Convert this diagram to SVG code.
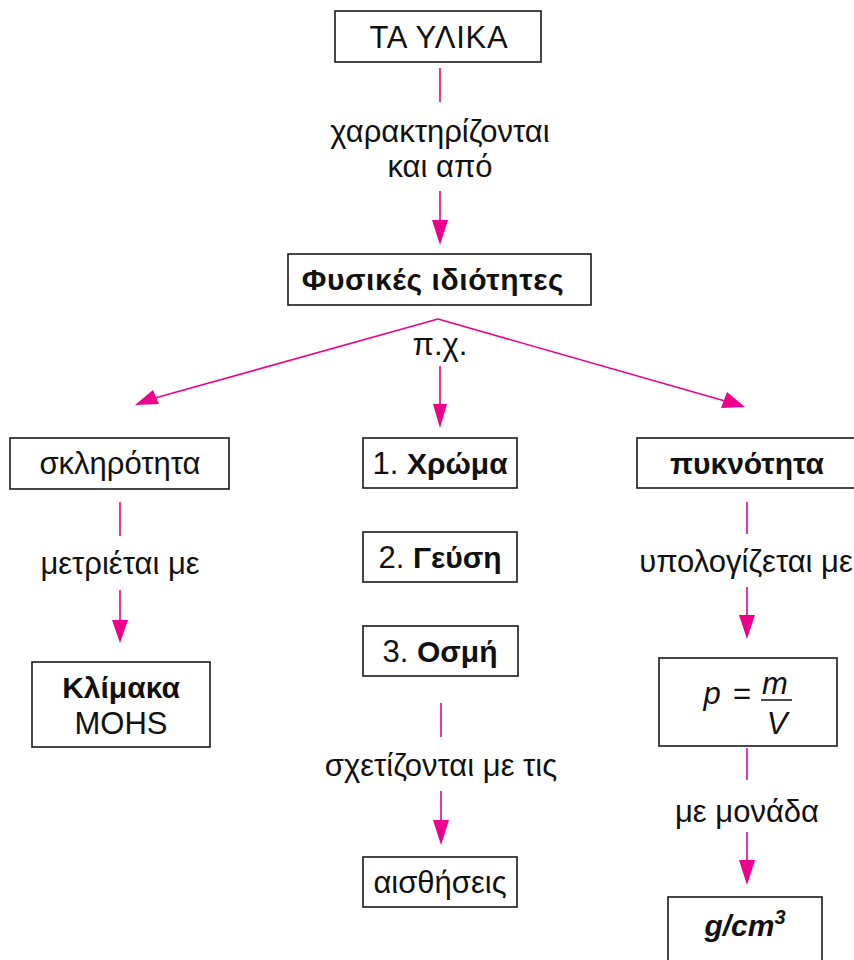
<svg xmlns="http://www.w3.org/2000/svg" width="854" height="960" viewBox="0 0 854 960">
<style>
.box{fill:#fff;stroke:#1a1a1a;stroke-width:1.6}
.t{font-family:"Liberation Sans",Arial,sans-serif;font-size:31px;fill:#111;text-anchor:middle}
.b{font-weight:bold;font-size:30px}
.i{font-style:italic}
.ln{stroke:#ec008c;stroke-width:1.6;fill:none}
.ah{fill:#ec008c}
</style>
<rect width="854" height="960" fill="#fff"/>
<g id="connectors">
<line class="ln" x1="440" y1="68" x2="440" y2="102"/>
<line class="ln" x1="440" y1="191" x2="440" y2="222"/>
<polygon class="ah" points="432,220 448,220 440,245"/>
<line class="ln" x1="438" y1="319" x2="155" y2="398"/>
<polygon class="ah" points="135,405 153,390 159,404"/>
<line class="ln" x1="438" y1="319" x2="725" y2="401"/>
<polygon class="ah" points="745,407 721,408 727,392"/>
<line class="ln" x1="440" y1="366" x2="440" y2="406"/>
<polygon class="ah" points="433,404 447,404 440,428"/>
<line class="ln" x1="120" y1="502" x2="120" y2="536"/>
<line class="ln" x1="120" y1="590" x2="120" y2="622"/>
<polygon class="ah" points="112,620 128,620 120,643"/>
<line class="ln" x1="441" y1="703" x2="441" y2="737"/>
<line class="ln" x1="441" y1="791" x2="441" y2="822"/>
<polygon class="ah" points="433,820 449,820 441,845"/>
<line class="ln" x1="747" y1="502" x2="747" y2="534"/>
<line class="ln" x1="747" y1="587" x2="747" y2="617"/>
<polygon class="ah" points="739,615 755,615 747,639"/>
<line class="ln" x1="747" y1="748" x2="747" y2="780"/>
<line class="ln" x1="747" y1="832" x2="747" y2="862"/>
<polygon class="ah" points="739,860 755,860 747,885"/>
</g>
<g id="labels">
<text class="t" x="440" y="142">χαρακτηρίζονται</text>
<text class="t" x="440" y="177">και από</text>
<text class="t" x="440" y="355">π.χ.</text>
<text class="t" x="120" y="574">μετριέται με</text>
<text class="t" x="441" y="776">σχετίζονται με τις</text>
<text class="t" x="746" y="572">υπολογίζεται με</text>
<text class="t" x="747" y="822">με μονάδα</text>
</g>
<g id="n-ta-ylika">
<rect class="box" x="335" y="11" width="206" height="51"/>
<text class="t" x="439" y="48" font-size="33" letter-spacing="0.8">ΤΑ ΥΛΙΚΑ</text>
</g>
<g id="n-fysikes">
<rect class="box" x="288" y="254" width="303" height="51"/>
<text class="t b" x="433" y="290" font-size="32" letter-spacing="0.6">Φυσικές ιδιότητες</text>
</g>
<g id="n-sklirotita">
<rect class="box" x="10" y="438" width="219" height="51"/>
<text class="t" x="120" y="474">σκληρότητα</text>
</g>
<g id="n-xroma">
<rect class="box" x="363" y="438" width="154" height="50"/>
<text class="t" x="440" y="474">1. <tspan class="b">Χρώμα</tspan></text>
</g>
<g id="n-pyknotita">
<rect class="box" x="637" y="438" width="230" height="50"/>
<text class="t b" x="747" y="474">πυκνότητα</text>
</g>
<g id="n-klimaka">
<rect class="box" x="32" y="662" width="178" height="85"/>
<text class="t b" x="121" y="698">Κλίμακα</text>
<text class="t" x="121" y="734">MOHS</text>
</g>
<g id="n-geysi">
<rect class="box" x="363" y="532" width="154" height="50"/>
<text class="t" x="440" y="568">2. <tspan class="b">Γεύση</tspan></text>
</g>
<g id="n-osmi">
<rect class="box" x="363" y="626" width="155" height="50"/>
<text class="t" x="440" y="662">3. <tspan class="b">Οσμή</tspan></text>
</g>
<g id="n-aisthiseis">
<rect class="box" x="363" y="857" width="154" height="50"/>
<text class="t" x="440" y="893">αισθήσεις</text>
</g>
<g id="n-formula">
<rect class="box" x="659" y="658" width="178" height="88"/>
<text class="t i" x="712" y="704">p</text>
<text class="t" x="742" y="704">=</text>
<line x1="761" y1="700" x2="792" y2="700" stroke="#111" stroke-width="1.5"/>
<text class="t i" x="775" y="694">m</text>
<text class="t i" x="777" y="734">V</text>
</g>
<g id="n-unit">
<rect class="box" x="668" y="897" width="154" height="80"/>
<text class="t b i" x="745" y="936" font-size="31">g/cm<tspan font-size="20" dy="-12">3</tspan></text>
</g>
</svg>
